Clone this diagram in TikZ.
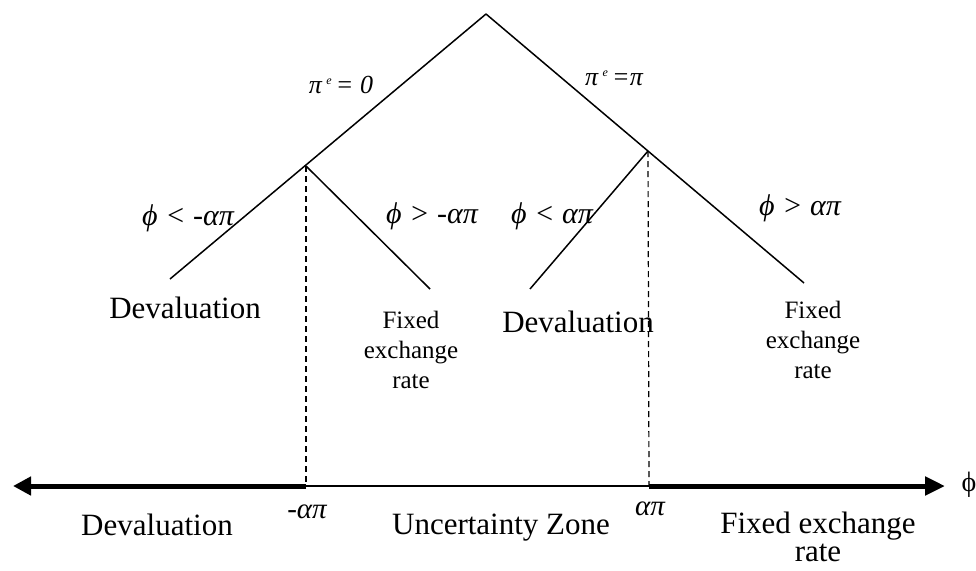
\documentclass[tikz,border=0pt]{standalone}
\usepackage{fontspec}
\setmainfont{Liberation Serif}
\usetikzlibrary{arrows.meta}
\newcommand{\supe}{\,\raisebox{9pt}{\fontsize{12}{12}\selectfont e}\,}
\begin{document}
\begin{tikzpicture}[x=1pt,y=-1pt,
  branch/.style={line width=1.5pt},
  guide/.style={line width=1.2pt,dash pattern=on 6pt off 4pt},
  axisthick/.style={line width=5pt},
  axisthin/.style={line width=1.3pt},
  lbl/.style={inner sep=0pt,anchor=base},
  big/.style={font=\fontsize{31}{31}\selectfont},
  smalltxt/.style={inner sep=0pt,font=\fontsize{25}{30}\selectfont, align=center},
  bigtwo/.style={inner sep=0pt,font=\fontsize{31}{28}\selectfont, align=center},
  cond/.style={font=\fontsize{30}{30}\selectfont\itshape},
  pie/.style={font=\fontsize{26}{26}\selectfont\itshape},
  ap/.style={font=\fontsize{29}{29}\selectfont\itshape}]
\useasboundingbox (0,0) rectangle (976,570);
% tree points
\coordinate (apex) at (486,14);
\coordinate (nl) at (306,166);
\coordinate (nr) at (648,151);
\coordinate (ll) at (170,279);
\coordinate (lr) at (430,289);
\coordinate (rl) at (530,289);
\coordinate (rr) at (804,283);
% axis points
\coordinate (axL) at (306,486);
\coordinate (axR) at (649,486);
\coordinate (aleft) at (13,486);
\coordinate (aright) at (945,486);
% branches
\draw[branch] (apex) -- (ll);
\draw[branch] (apex) -- (rr);
\draw[branch] (nl) -- (lr);
\draw[branch] (nr) -- (rl);
% guides
\draw[guide] (nl) -- (axL);
\draw[guide] (nr) -- (axR);
% axis
\draw[axisthin] (axL) -- (axR);
\draw[axisthick,-{Triangle[length=18pt,width=18pt]}] (axL) -- (aleft);
\draw[axisthick,-{Triangle[length=20pt,width=18pt]}] (axR) -- (aright);
% labels
\node[lbl,pie] (p0) at (341,93) {π\supe = 0};
\node[lbl,pie] (pp) at (614,85) {π\supe =π};
\node[lbl,cond] (c1) at (188,225) {ϕ < -απ};
\node[lbl,cond] (c2) at (432,223) {ϕ > -απ};
\node[lbl,cond] (c3) at (552,223) {ϕ < απ};
\node[lbl,cond] (c4) at (800,215) {ϕ > απ};
\node[lbl,big] (d1) at (185,318) {Devaluation};
\node[smalltxt] (f1) at (411,350) {Fixed\\exchange\\rate};
\node[lbl,big] (d2) at (578,332) {Devaluation};
\node[smalltxt] (f2) at (813,340) {Fixed\\exchange\\rate};
\node[lbl,big] (d3) at (157,535) {Devaluation};
\node[lbl,ap] (ma) at (307,518) {-απ};
\node[lbl,big] (uz) at (501,534) {Uncertainty Zone};
\node[lbl,ap] (pa) at (650,515) {απ};
\node[bigtwo] (f3) at (818,537) {Fixed exchange\\rate};
\node[inner sep=0pt,font=\fontsize{28}{28}\selectfont] (phi) at (969,485) {ϕ};
\end{tikzpicture}
\end{document}
